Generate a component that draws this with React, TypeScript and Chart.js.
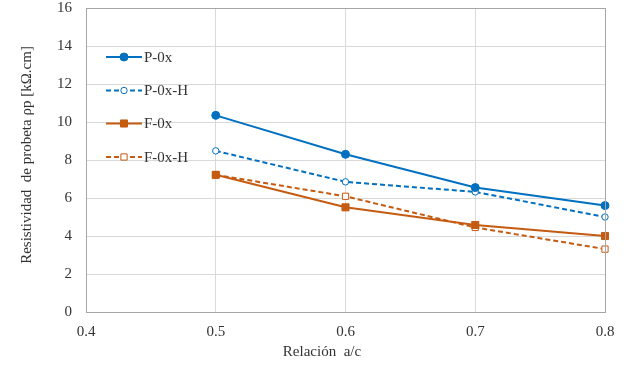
import React, { useEffect, useRef } from "react";
import { Chart, registerables } from "chart.js";

Chart.register(...registerables);

const xValues = [0.5, 0.6, 0.7, 0.8];
const seriesNames = ["P-0x", "P-0x-H", "F-0x", "F-0x-H"];
const p0x = [10.35, 8.3, 6.55, 5.6];
const p0xH = [8.48, 6.85, 6.32, 5.0];
const f0x = [7.22, 5.51, 4.58, 4.0];
const f0xH = [7.22, 6.09, 4.45, 3.31];
const xTitle = "Relación  a/c";
const yTitle = "Resistividad  de probeta ρp [kΩ.cm]";

const BLUE = "#0070C0";
const ORANGE = "#C55A11";
const FONT = "'Liberation Serif', 'Times New Roman', serif";
const TEXT = "#333333";

const toPts = (ys: number[]) => ys.map((y, i) => ({ x: xValues[i], y }));

function drawMarker(ctx: CanvasRenderingContext2D, ds: any, x: number, y: number) {
  const r = ds.pointRadius;
  ctx.beginPath();
  if (ds.pointStyle === "rect") {
    const s = Math.SQRT1_2 * r;
    ctx.rect(x - s, y - s, 2 * s, 2 * s);
  } else {
    ctx.arc(x, y, r, 0, Math.PI * 2);
  }
  ctx.fillStyle = ds.pointBackgroundColor;
  ctx.fill();
  ctx.lineWidth = ds.pointBorderWidth;
  ctx.strokeStyle = ds.pointBorderColor;
  ctx.setLineDash([]);
  ctx.stroke();
}

const overlayPlugin = {
  id: "overlay",
  afterDraw(chart: any) {
    const { ctx, chartArea } = chart;
    ctx.save();
    // plot border
    ctx.strokeStyle = "#a6a6a6";
    ctx.lineWidth = 1;
    ctx.strokeRect(
      Math.round(chartArea.left) + 0.5,
      Math.round(chartArea.top) + 0.5,
      Math.round(chartArea.right - chartArea.left),
      Math.round(chartArea.bottom - chartArea.top)
    );
    // titles
    ctx.fillStyle = TEXT;
    ctx.font = `15px ${FONT}`;
    ctx.textAlign = "center";
    ctx.textBaseline = "middle";
    ctx.fillText(xTitle, 322, 352);
    ctx.save();
    ctx.translate(27, 155);
    ctx.rotate(-Math.PI / 2);
    ctx.fillText(yTitle, 0, 0);
    ctx.restore();
    // legend
    const rows = [57, 90.5, 123.5, 157];
    chart.data.datasets.forEach((ds: any, i: number) => {
      const y = rows[i];
      ctx.save();
      ctx.strokeStyle = ds.borderColor;
      ctx.lineWidth = ds.borderWidth;
      ctx.setLineDash(ds.borderDash || []);
      ctx.beginPath();
      ctx.moveTo(106, y);
      ctx.lineTo(142, y);
      ctx.stroke();
      ctx.restore();
      ctx.save();
      drawMarker(ctx, ds, 124, y);
      ctx.restore();
      ctx.fillStyle = TEXT;
      ctx.font = `15px ${FONT}`;
      ctx.textAlign = "left";
      ctx.textBaseline = "middle";
      ctx.fillText(ds.label, 144, y + 1);
    });
    ctx.restore();
  },
};

export default function App() {
  const ref = useRef<HTMLCanvasElement>(null);
  useEffect(() => {
    document.body.style.margin = "0";
    const canvas = ref.current!;
    const chart = new Chart(canvas, {
      type: "line",
      data: {
        datasets: [
          {
            label: seriesNames[0],
            data: toPts(p0x),
            borderColor: BLUE,
            borderWidth: 2,
            pointStyle: "circle",
            pointRadius: 4,
            pointBackgroundColor: BLUE,
            pointBorderColor: BLUE,
            pointBorderWidth: 1,
            clip: false,
          },
          {
            label: seriesNames[1],
            data: toPts(p0xH),
            borderColor: BLUE,
            borderWidth: 2,
            borderDash: [5, 3],
            pointStyle: "circle",
            pointRadius: 3.2,
            pointBackgroundColor: "#ffffff",
            pointBorderColor: BLUE,
            pointBorderWidth: 1,
            clip: false,
          },
          {
            label: seriesNames[2],
            data: toPts(f0x),
            borderColor: ORANGE,
            borderWidth: 2,
            pointStyle: "rect",
            pointRadius: 5,
            pointBackgroundColor: ORANGE,
            pointBorderColor: ORANGE,
            pointBorderWidth: 1,
            clip: false,
          },
          {
            label: seriesNames[3],
            data: toPts(f0xH),
            borderColor: ORANGE,
            borderWidth: 2,
            borderDash: [5, 3],
            pointStyle: "rect",
            pointRadius: 4.4,
            pointBackgroundColor: "#ffffff",
            pointBorderColor: ORANGE,
            pointBorderWidth: 1,
            clip: false,
          },
        ],
      },
      options: {
        animation: false,
        responsive: false,
        maintainAspectRatio: false,
        layout: { padding: { left: 0, right: 22, top: 8, bottom: 0 } },
        plugins: { legend: { display: false }, tooltip: { enabled: false } },
        scales: {
          x: {
            type: "linear",
            min: 0.4,
            max: 0.8,
            ticks: {
              stepSize: 0.1,
              callback: (v: any) => Number(v).toFixed(1),
              font: { family: FONT, size: 15 },
              color: TEXT,
              padding: 11,
              maxRotation: 0,
            },
            grid: { color: "#d9d9d9", drawTicks: false },
            border: { color: "#a6a6a6" },
            afterFit: (s: any) => {
              s.height = 56;
              s.paddingLeft = 0;
              s.paddingRight = 0;
            },
          },
          y: {
            min: 0,
            max: 16,
            ticks: {
              stepSize: 2,
              font: { family: FONT, size: 15 },
              color: TEXT,
              padding: 14,
            },
            grid: { color: "#d9d9d9", drawTicks: false },
            border: { color: "#a6a6a6" },
            afterFit: (s: any) => {
              s.width = 86;
              s.paddingTop = 0;
              s.paddingBottom = 0;
            },
          },
        },
      },
      plugins: [overlayPlugin],
    });
    return () => chart.destroy();
  }, []);
  return (
    <div style={{ width: 627, height: 368, background: "#fff" }}>
      <canvas ref={ref} width={627} height={368} />
    </div>
  );
}
